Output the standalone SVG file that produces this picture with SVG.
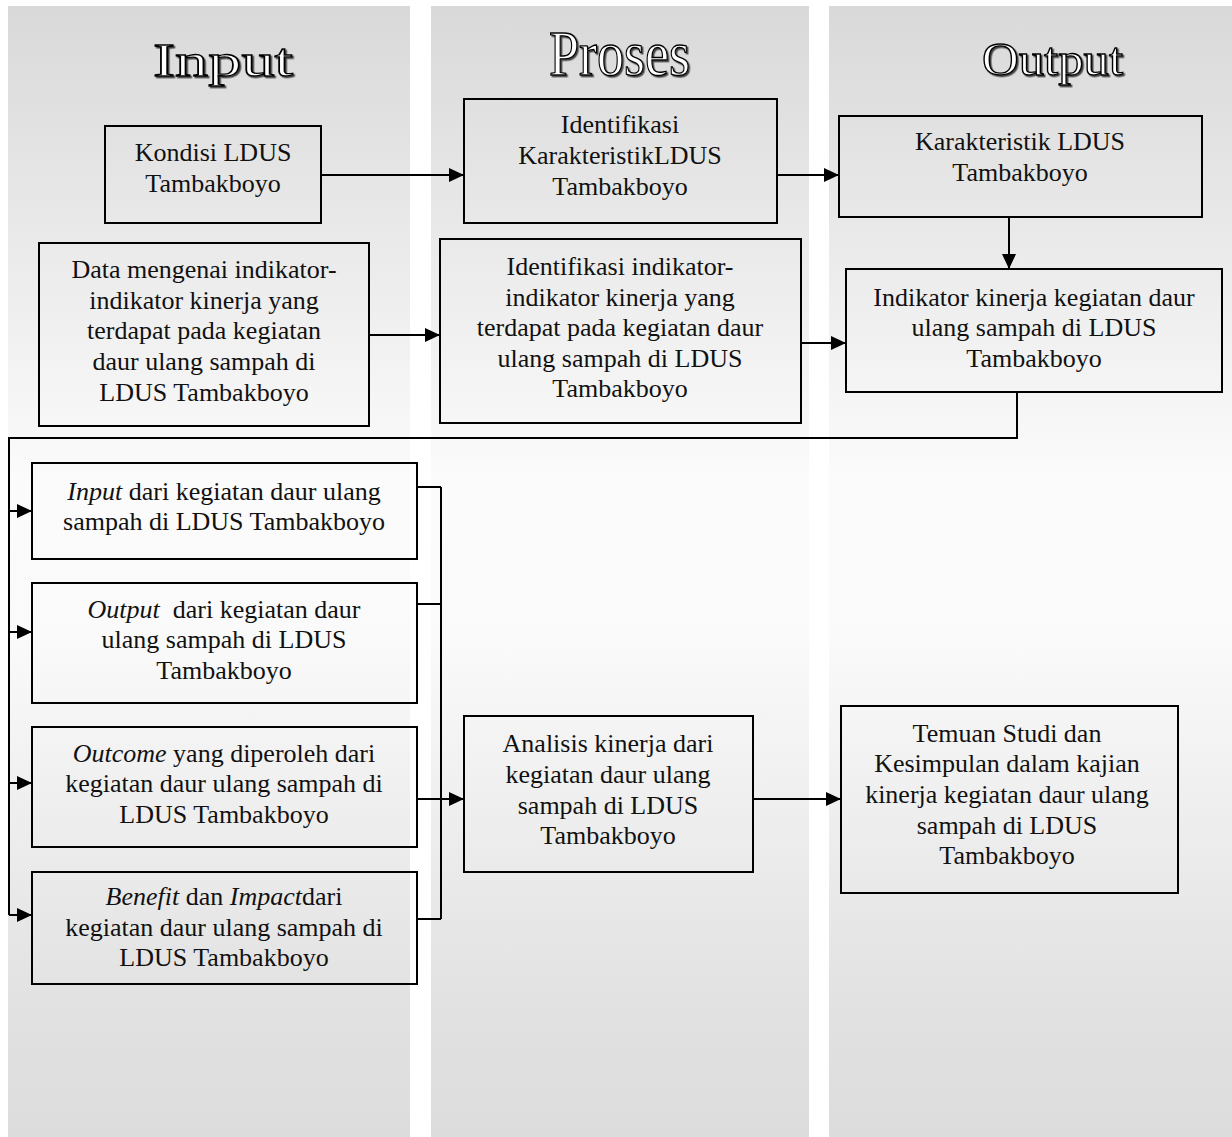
<svg xmlns="http://www.w3.org/2000/svg" width="1232" height="1137" viewBox="0 0 1232 1137">
<style>
.col{fill:url(#colg);}
.box{fill:none;stroke:#000;stroke-width:2;}
.t{font-family:"Liberation Serif","Times New Roman",serif;font-size:26px;fill:#111;text-anchor:middle;}
.i{font-style:italic;}
.hd{font-family:"Liberation Serif","Times New Roman",serif;fill:#fff;stroke:#000;stroke-width:1.3;filter:url(#sh);}
.ln{fill:none;stroke:#000;stroke-width:2;}
.ar{fill:none;stroke:#000;stroke-width:2;marker-end:url(#ah);}
</style>
<defs>
<linearGradient id="colg" gradientUnits="userSpaceOnUse" x1="0" y1="6" x2="0" y2="1137">
<stop offset="0" stop-color="#d9d9d9"/>
<stop offset="0.42" stop-color="#fbfbfb"/>
<stop offset="0.56" stop-color="#fafafa"/>
<stop offset="0.86" stop-color="#e3e3e3"/>
<stop offset="1" stop-color="#dcdcdc"/>
</linearGradient>
<filter id="sh" x="-10%" y="-10%" width="130%" height="130%">
<feDropShadow dx="1.5" dy="1.5" stdDeviation="0.2" flood-color="#333" flood-opacity="0.9"/>
</filter>
<marker id="ah" markerUnits="userSpaceOnUse" markerWidth="16" markerHeight="14" refX="15" refY="7" orient="auto">
<path d="M0,0 L15,7 L0,14 Z" fill="#000"/>
</marker>
</defs>

<g id="background">
<rect class="col" x="8" y="6" width="402" height="1131"/>
<rect class="col" x="431" y="6" width="378" height="1131"/>
<rect class="col" x="829" y="6" width="403" height="1131"/>
</g>

<g id="headers">
<text class="hd" x="153" y="76" font-size="47" textLength="140" lengthAdjust="spacingAndGlyphs">Input</text>
<text class="hd" x="549" y="75" font-size="64" textLength="141" lengthAdjust="spacingAndGlyphs">Proses</text>
<text class="hd" x="982" y="75" font-size="47" textLength="141" lengthAdjust="spacingAndGlyphs">Output</text>
</g>

<g id="connectors">
<path class="ar" d="M321,175 H464"/>
<path class="ar" d="M777,175 H839"/>
<path class="ar" d="M1009,217 V269"/>
<path class="ar" d="M369,335 H440"/>
<path class="ar" d="M801,343 H846"/>
<path class="ln" d="M1017,392 V438 H9 V915"/>
<path class="ar" d="M9,511 H32"/>
<path class="ar" d="M9,632 H32"/>
<path class="ar" d="M9,783 H32"/>
<path class="ar" d="M9,915 H32"/>
<path class="ln" d="M417,487 H441 M417,604 H441 M417,919 H441 M441,487 V919"/>
<path class="ar" d="M417,799 H464"/>
<path class="ar" d="M753,799 H841"/>
</g>

<g id="n-kondisi">
<rect class="box" x="105" y="126" width="216" height="97"/>
<text class="t" x="213" y="161">Kondisi LDUS</text>
<text class="t" x="213" y="192">Tambakboyo</text>
</g>

<g id="n-identifikasi-karakteristik">
<rect class="box" x="464" y="99" width="313" height="124"/>
<text class="t" x="620" y="133">Identifikasi</text>
<text class="t" x="620" y="164">KarakteristikLDUS</text>
<text class="t" x="620" y="195">Tambakboyo</text>
</g>

<g id="n-karakteristik">
<rect class="box" x="839" y="116" width="363" height="101"/>
<text class="t" x="1020" y="150">Karakteristik LDUS</text>
<text class="t" x="1020" y="181">Tambakboyo</text>
</g>

<g id="n-data">
<rect class="box" x="39" y="243" width="330" height="183"/>
<text class="t" x="204" y="278">Data mengenai indikator-</text>
<text class="t" x="204" y="308.5">indikator kinerja yang</text>
<text class="t" x="204" y="339">terdapat pada kegiatan</text>
<text class="t" x="204" y="370">daur ulang sampah di</text>
<text class="t" x="204" y="401">LDUS Tambakboyo</text>
</g>

<g id="n-identifikasi-indikator">
<rect class="box" x="440" y="239" width="361" height="184"/>
<text class="t" x="620" y="275">Identifikasi indikator-</text>
<text class="t" x="620" y="306">indikator kinerja yang</text>
<text class="t" x="620" y="336">terdapat pada kegiatan daur</text>
<text class="t" x="620" y="367">ulang sampah di LDUS</text>
<text class="t" x="620" y="397">Tambakboyo</text>
</g>

<g id="n-indikator-kinerja">
<rect class="box" x="846" y="269" width="376" height="123"/>
<text class="t" x="1034" y="306">Indikator kinerja kegiatan daur</text>
<text class="t" x="1034" y="336">ulang sampah di LDUS</text>
<text class="t" x="1034" y="367">Tambakboyo</text>
</g>

<g id="n-input">
<rect class="box" x="32" y="463" width="385" height="96"/>
<text class="t" x="224" y="500"><tspan class="i">Input</tspan> dari kegiatan daur ulang</text>
<text class="t" x="224" y="530">sampah di LDUS Tambakboyo</text>
</g>

<g id="n-output">
<rect class="box" x="32" y="583" width="385" height="120"/>
<text class="t" x="224" y="618" xml:space="preserve"><tspan class="i">Output</tspan>  dari kegiatan daur</text>
<text class="t" x="224" y="648">ulang sampah di LDUS</text>
<text class="t" x="224" y="679">Tambakboyo</text>
</g>

<g id="n-outcome">
<rect class="box" x="32" y="727" width="385" height="120"/>
<text class="t" x="224" y="762"><tspan class="i">Outcome</tspan> yang diperoleh dari</text>
<text class="t" x="224" y="792">kegiatan daur ulang sampah di</text>
<text class="t" x="224" y="823">LDUS Tambakboyo</text>
</g>

<g id="n-benefit">
<rect class="box" x="32" y="872" width="385" height="112"/>
<text class="t" x="224" y="905"><tspan class="i">Benefit</tspan> dan <tspan class="i">Impact</tspan>dari</text>
<text class="t" x="224" y="936">kegiatan daur ulang sampah di</text>
<text class="t" x="224" y="966">LDUS Tambakboyo</text>
</g>

<g id="n-analisis">
<rect class="box" x="464" y="716" width="289" height="156"/>
<text class="t" x="608" y="752">Analisis kinerja dari</text>
<text class="t" x="608" y="783">kegiatan daur ulang</text>
<text class="t" x="608" y="814">sampah di LDUS</text>
<text class="t" x="608" y="844">Tambakboyo</text>
</g>

<g id="n-temuan">
<rect class="box" x="841" y="706" width="337" height="187"/>
<text class="t" x="1007" y="742">Temuan Studi dan</text>
<text class="t" x="1007" y="772">Kesimpulan dalam kajian</text>
<text class="t" x="1007" y="803">kinerja kegiatan daur ulang</text>
<text class="t" x="1007" y="834">sampah di LDUS</text>
<text class="t" x="1007" y="864">Tambakboyo</text>
</g>
</svg>
